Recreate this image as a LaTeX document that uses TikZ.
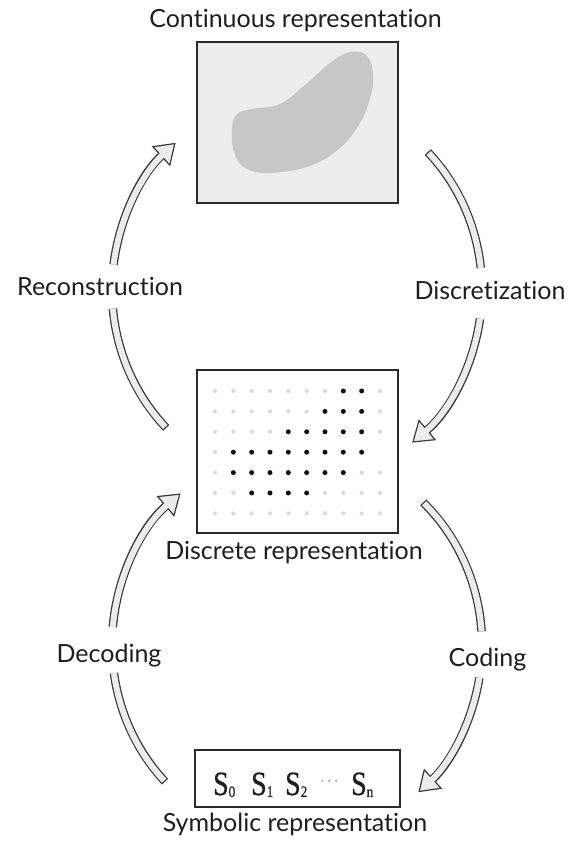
\documentclass[tikz,border=0pt]{standalone}
\usepackage{fontspec}
\usetikzlibrary{arrows.meta}
\newfontfamily\lblfont{Lato}[RawFeature={-liga;-dlig;-calt}]
\newfontfamily\symfont{Liberation Serif}[FakeStretch=0.82, FakeBold=0.6]

\definecolor{ink}{HTML}{1E1E1E}
\definecolor{boxline}{HTML}{2A2A2A}
\definecolor{panelfill}{HTML}{ECEDEC}
\definecolor{blobfill}{HTML}{C6C7C6}
\definecolor{arrowline}{HTML}{3A3A3A}
\definecolor{arrowfill}{HTML}{ECECEC}
\definecolor{dotgray}{HTML}{DADADA}
\definecolor{dotblack}{HTML}{111111}
\definecolor{ellipsisgray}{HTML}{9A9A9A}

% a symbol with its index, set in a box of fixed width
\newcommand\symbolcell[2]{\makebox[#1][l]{S\raisebox{-2pt}{\fontsize{16}{16}\selectfont #2}}}

% one clockwise arrow of the cycle: a band split by its label, head at the end
% #1 centre, #2 name prefix, #3/#4 angles of the first piece, #5/#6 of the headed piece
\newcommand\cyclearrow[6]{%
  \path (#1) ++(#3:185pt and 195pt) coordinate (#2a);
  \path (#1) ++(#5:185pt and 195pt) coordinate (#2b);
  \draw[bandout] (#2a) arc[start angle=#3, end angle=#4, x radius=185pt, y radius=195pt];
  \draw[bandin, shorten <=1.3pt] (#2a) arc[start angle=#3, end angle=#4, x radius=185pt, y radius=195pt];
  \draw[bandout, headtip] (#2b) arc[start angle=#5, end angle=#6, x radius=185pt, y radius=195pt];
  \draw[bandin, shorten >=17pt] (#2b) arc[start angle=#5, end angle=#6, x radius=185pt, y radius=195pt];
}

\tikzset{
  panel/.style={draw=boxline, line width=1.2pt, inner sep=0pt},
  caption/.style={font=\lblfont\fontsize{25}{30}\selectfont, text=ink, anchor=base, inner sep=0pt},
  bandout/.style={draw=arrowline, line width=8.5pt},
  bandin/.style={draw=arrowfill, line width=6pt},
  headtip/.style={-{Triangle[length=20pt, width=27pt, line width=1.2pt, fill=arrowfill]}},
}

\begin{document}
\begin{tikzpicture}[x=1pt, y=1pt]
\useasboundingbox (0,0) rectangle (568,842);

% --- continuous representation ---
\node[panel, fill=panelfill, minimum width=201pt, minimum height=161pt] (cont) at (297.5,719.5) {};
\fill[blobfill] plot[smooth cycle, tension=0.65] coordinates {
  (350,790) (366,787) (373,770) (371,747) (360,719) (340,694) (310,676)
  (270,669) (245,674) (234,690) (232,714) (237,728) (252,733) (280,738)
  (305,757) (330,779)};
\node[caption] (lcont) at (295.5,814) {Continuous representation};

% --- discrete representation: sampled grid ---
\node[panel, fill=white, minimum width=201pt, minimum height=163pt] (disc) at (297.5,390.5) {};
\foreach \r/\lo/\hi in {0/7/8, 1/6/8, 2/4/8, 3/1/8, 4/1/7, 5/2/5, 6/99/0}{
  \foreach \c in {0,...,9}{
    \pgfmathtruncatemacro\isblack{(\c>=\lo)&&(\c<=\hi)}
    \pgfmathtruncatemacro\skipit{(\r==3)&&(\c==9)}
    \ifnum\skipit=0
      \ifnum\isblack=1
        \fill[dotblack] (215+18.33*\c, 451-20.4*\r) circle (2.5pt);
      \else
        \fill[dotgray] (215+18.33*\c, 451-20.4*\r) circle (2.1pt);
      \fi
    \fi
  }
}
\node[caption] (ldisc) at (294,282) {Discrete representation};

% --- symbolic representation ---
\node[panel, fill=white, minimum width=205pt, minimum height=57pt] (symb) at (297.5,63.5) {};
\node[anchor=base west, inner sep=0pt, text=ink] (seq) at (213,47) {\symfont\fontsize{34}{36}\selectfont
  \symbolcell{38pt}{0}\symbolcell{34pt}{1}\symbolcell{35pt}{2}%
  \makebox[31pt][l]{\color{ellipsisgray}\fontsize{16}{16}\selectfont\raisebox{9pt}{\textperiodcentered\hspace{2.5pt}\textperiodcentered\hspace{2.5pt}\textperiodcentered}}%
  \symbolcell{30pt}{n}};
\node[caption] (lsymb) at (295,10) {Symbolic representation};

% --- transitions ---
\coordinate (upper) at (297,552);
\coordinate (lower) at (297,197);
\cyclearrow{upper}{dz}{45}{6.5}{-8.5}{-51.5}
\cyclearrow{upper}{rc}{225}{185.5}{172.5}{131}
\cyclearrow{lower}{cd}{47}{4}{-9.7}{-49}
\cyclearrow{lower}{dc}{224.5}{188.3}{174.7}{129}

\node[caption] (ldz) at (490,542) {Discretization};
\node[caption] (lrc) at (100,546) {Reconstruction};
\node[caption] (lcd) at (487.5,175) {Coding};
\node[caption] (ldc) at (109,179) {Decoding};
\end{tikzpicture}
\end{document}
